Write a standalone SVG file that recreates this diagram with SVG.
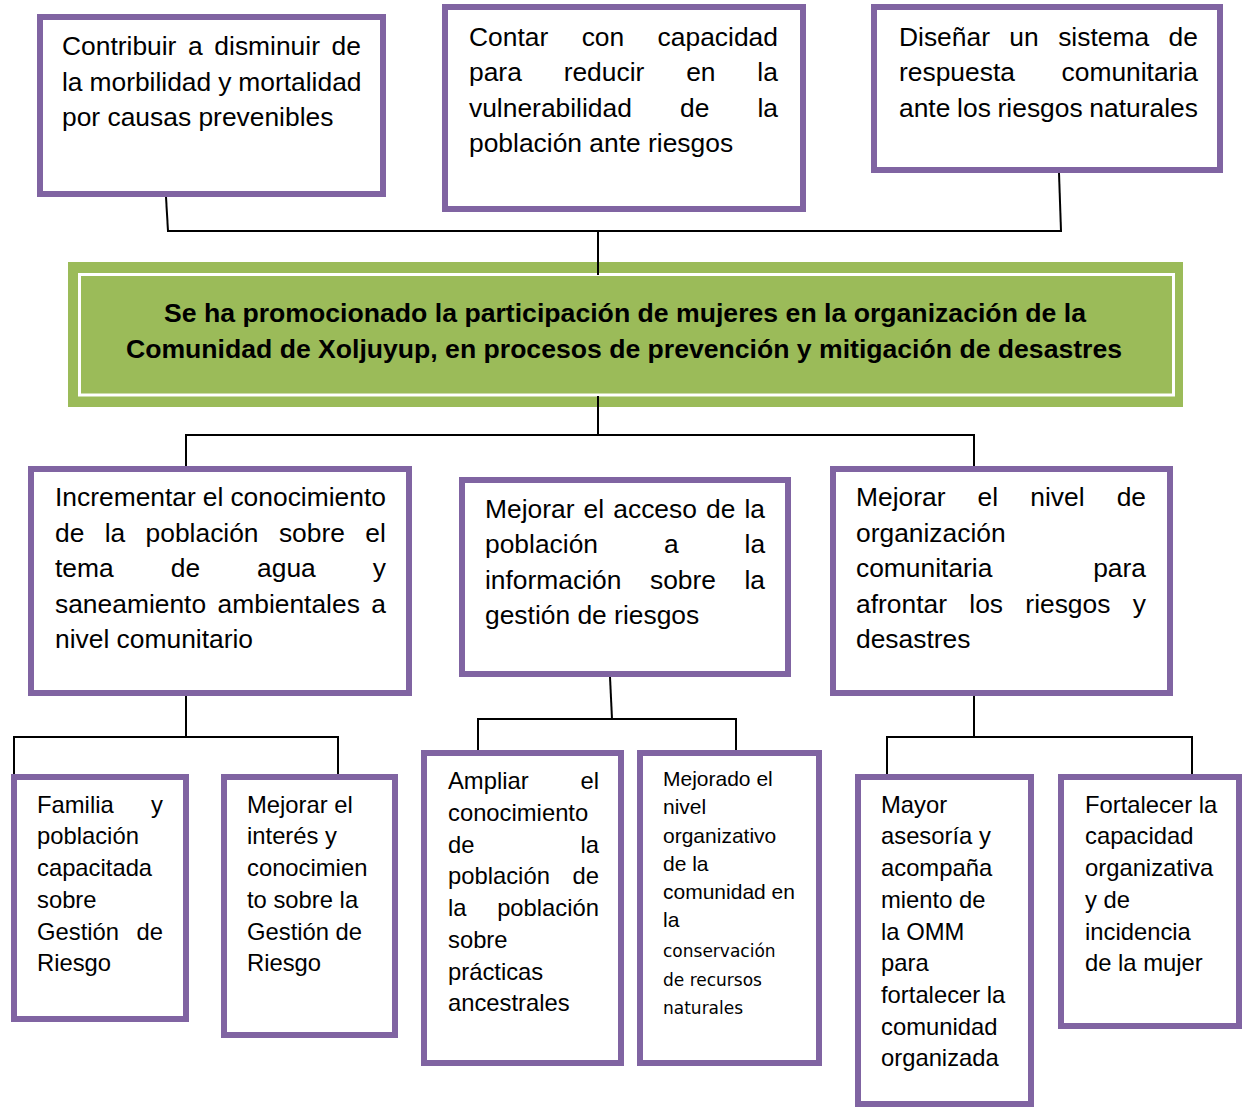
<svg xmlns="http://www.w3.org/2000/svg" width="1242" height="1107" viewBox="0 0 1242 1107">
<style>
.box{fill:#fff;stroke:#8064A2;stroke-width:6}
.t{font-family:"Liberation Sans",Arial,sans-serif;font-size:26.4px;fill:#000}
.s{font-size:23.8px}
.m{font-size:21px}
.d{font-family:"DejaVu Sans",Verdana,sans-serif;font-size:17px}
.b{font-family:"Liberation Sans",Arial,sans-serif;font-weight:bold;font-size:26.5px;fill:#000}
.conn path{stroke:#000;stroke-width:2;fill:none}
</style>
<rect width="1242" height="1107" fill="#fff"/>

<g id="n-contribuir">
<rect class="box" x="40" y="17" width="343" height="177"/>
<text class="t" x="62" y="55" word-spacing="4.3">Contribuir a disminuir de</text>
<text class="t" x="62" y="90.5" word-spacing="-0.4">la morbilidad y mortalidad</text>
<text class="t" x="62" y="126">por causas prevenibles</text>
</g>

<g id="n-contar">
<rect class="box" x="445" y="7" width="358" height="202"/>
<text class="t" x="469" y="45.5" word-spacing="26.1">Contar con capacidad</text>
<text class="t" x="469" y="81" word-spacing="34.5">para reducir en la</text>
<text class="t" x="469" y="116.5" word-spacing="40.8">vulnerabilidad de la</text>
<text class="t" x="469" y="152">población ante riesgos</text>
</g>

<g id="n-disenar">
<rect class="box" x="874" y="7" width="346" height="163"/>
<text class="t" x="899" y="45.5" word-spacing="12.1">Diseñar un sistema de</text>
<text class="t" x="899" y="81" word-spacing="39.3">respuesta comunitaria</text>
<text class="t" x="899" y="116.5" word-spacing="-0.6">ante los riesgos naturales</text>
</g>

<g id="n-central">
<rect x="68" y="262" width="1115" height="145" fill="#9BBB59"/>
<rect x="79.5" y="274.5" width="1094" height="120.5" fill="none" stroke="#fff" stroke-width="3"/>
<text class="b" x="625" y="322" text-anchor="middle" textLength="922" lengthAdjust="spacingAndGlyphs">Se ha promocionado la participación de mujeres en la organización de la</text>
<text class="b" x="624" y="358" text-anchor="middle" textLength="996" lengthAdjust="spacingAndGlyphs">Comunidad de Xoljuyup, en procesos de prevención y mitigación de desastres</text>
</g>

<g id="n-incrementar">
<rect class="box" x="31" y="469" width="378" height="224"/>
<text class="t" x="55" y="506" word-spacing="-0.3">Incrementar el conocimiento</text>
<text class="t" x="55" y="541.5" word-spacing="13">de la población sobre el</text>
<text class="t" x="55" y="577" word-spacing="49.7">tema de agua y</text>
<text class="t" x="55" y="612.5" word-spacing="4.1">saneamiento ambientales a</text>
<text class="t" x="55" y="648">nivel comunitario</text>
</g>

<g id="n-acceso">
<rect class="box" x="462" y="480" width="326" height="194"/>
<text class="t" x="485" y="517.5" word-spacing="1.8">Mejorar el acceso de la</text>
<text class="t" x="485" y="553" word-spacing="58.6">población a la</text>
<text class="t" x="485" y="588.5" word-spacing="21.2">información sobre la</text>
<text class="t" x="485" y="624">gestión de riesgos</text>
</g>

<g id="n-nivel">
<rect class="box" x="833" y="469" width="337" height="224"/>
<text class="t" x="856" y="506" word-spacing="24.8">Mejorar el nivel de</text>
<text class="t" x="856" y="541.5">organización</text>
<text class="t" x="856" y="577" word-spacing="93.4">comunitaria para</text>
<text class="t" x="856" y="612.5" word-spacing="15">afrontar los riesgos y</text>
<text class="t" x="856" y="648">desastres</text>
</g>

<g id="n-familia">
<rect class="box" x="14" y="777" width="172" height="242"/>
<text class="t s" x="37" y="812.7" word-spacing="30.8">Familia y</text>
<text class="t s" x="37" y="844.4">población</text>
<text class="t s" x="37" y="876.1">capacitada</text>
<text class="t s" x="37" y="907.8">sobre</text>
<text class="t s" x="37" y="939.5" word-spacing="10.9">Gestión de</text>
<text class="t s" x="37" y="971.2">Riesgo</text>
</g>

<g id="n-interes">
<rect class="box" x="224" y="777" width="171" height="258"/>
<text class="t s" x="247" y="812.7">Mejorar el</text>
<text class="t s" x="247" y="844.4">interés y</text>
<text class="t s" x="247" y="876.1">conocimien</text>
<text class="t s" x="247" y="907.8">to sobre la</text>
<text class="t s" x="247" y="939.5">Gestión de</text>
<text class="t s" x="247" y="971.2">Riesgo</text>
</g>

<g id="n-ampliar">
<rect class="box" x="424" y="753" width="197" height="310"/>
<text class="t s" x="448" y="789.3" word-spacing="45.2">Ampliar el</text>
<text class="t s" x="448" y="821">conocimiento</text>
<text class="t s" x="448" y="852.7" word-spacing="99.4">de la</text>
<text class="t s" x="448" y="884.4" word-spacing="16.1">población de</text>
<text class="t s" x="448" y="916.1" word-spacing="24">la población</text>
<text class="t s" x="448" y="947.8">sobre</text>
<text class="t s" x="448" y="979.5">prácticas</text>
<text class="t s" x="448" y="1011.2">ancestrales</text>
</g>

<g id="n-mejorado">
<rect class="box" x="640" y="753" width="179" height="310"/>
<text class="t m" x="663" y="786">Mejorado el</text>
<text class="t m" x="663" y="814.3">nivel</text>
<text class="t m" x="663" y="842.7">organizativo</text>
<text class="t m" x="663" y="871">de la</text>
<text class="t m" x="663" y="899.3">comunidad en</text>
<text class="t m" x="663" y="927.3">la</text>
<text class="t d" x="663" y="956.7">conservación</text>
<text class="t d" x="663" y="986">de recursos</text>
<text class="t d" x="663" y="1014">naturales</text>
</g>

<g id="n-mayor">
<rect class="box" x="858" y="777" width="173" height="327"/>
<text class="t s" x="881" y="812.7">Mayor</text>
<text class="t s" x="881" y="844.4">asesoría y</text>
<text class="t s" x="881" y="876.1">acompaña</text>
<text class="t s" x="881" y="907.8">miento de</text>
<text class="t s" x="881" y="939.5">la OMM</text>
<text class="t s" x="881" y="971.2">para</text>
<text class="t s" x="881" y="1002.9">fortalecer la</text>
<text class="t s" x="881" y="1034.6">comunidad</text>
<text class="t s" x="881" y="1066.3">organizada</text>
</g>

<g id="n-fortalecer">
<rect class="box" x="1061" y="777" width="178" height="249"/>
<text class="t s" x="1085" y="812.7">Fortalecer la</text>
<text class="t s" x="1085" y="844.4">capacidad</text>
<text class="t s" x="1085" y="876.1">organizativa</text>
<text class="t s" x="1085" y="907.8">y de</text>
<text class="t s" x="1085" y="939.5">incidencia</text>
<text class="t s" x="1085" y="971.2">de la mujer</text>
</g>

<g id="connectors" class="conn">
<path d="M166,197 L168,231"/>
<path d="M1059,173 L1061,231"/>
<path d="M167,231 H1062"/>
<path d="M598,231 V275"/>
<path d="M598,396 V435"/>
<path d="M185,435 H975"/>
<path d="M186,435 V466"/>
<path d="M974,435 V466"/>
<path d="M186,696 V737"/>
<path d="M13,737 H339"/>
<path d="M14,737 V774"/>
<path d="M338,737 V774"/>
<path d="M610,677 L612,719"/>
<path d="M477,719 H737"/>
<path d="M478,719 V750"/>
<path d="M736,719 V750"/>
<path d="M974,696 V737"/>
<path d="M886,737 H1193"/>
<path d="M887,737 V774"/>
<path d="M1192,737 V774"/>
</g>
</svg>
